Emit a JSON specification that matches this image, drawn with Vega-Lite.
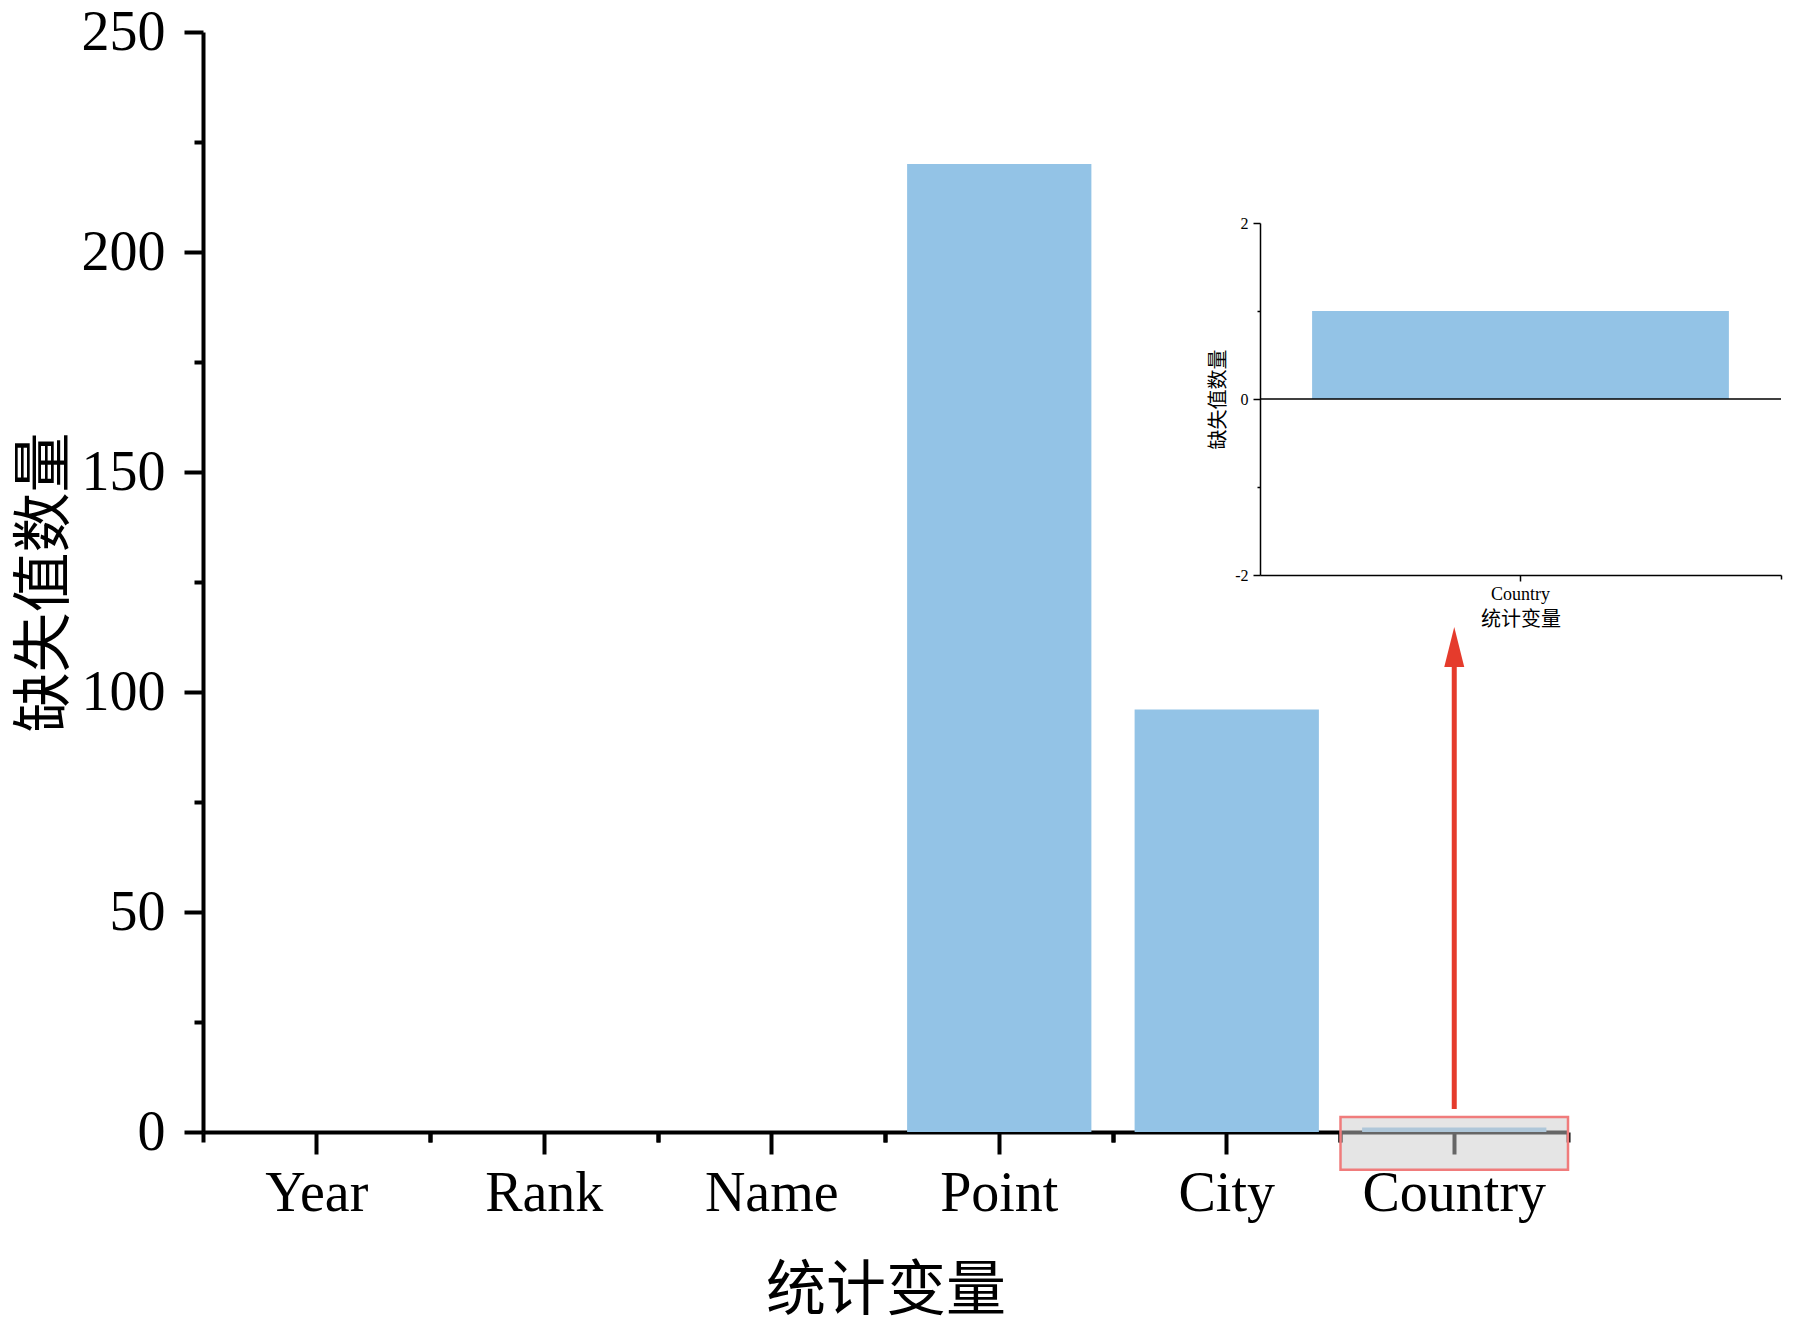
{
  "$schema": "https://vega.github.io/schema/vega-lite/v6.json",
  "width": 1365,
  "height": 1100,
  "autosize": "none",
  "padding": {"left": 203, "top": 32, "right": 225, "bottom": 197},
  "background": "white",
  "config": {
    "view": {"stroke": null},
    "axis": {"grid": false, "labelFont": "Liberation Serif", "titleFont": "Noto Sans CJK SC", "titleFontWeight": "normal", "labelColor": "black", "titleColor": "black", "domainColor": "black", "tickColor": "black", "labelOverlap": false, "labelLimit": 0}
  },
  "datasets": {
    "main": [
      {"var": "Year", "count": 0},
      {"var": "Rank", "count": 0},
      {"var": "Name", "count": 0},
      {"var": "Point", "count": 220},
      {"var": "City", "count": 96},
      {"var": "Country", "count": 1}
    ],
    "inset": [{"var": "Country", "count": 1}]
  },
  "layer": [
    {
      "data": {"name": "main"},
      "mark": {"type": "bar", "width": {"band": 0.81}, "color": "#93c3e6"},
      "encoding": {
        "x": {"field": "var", "type": "nominal", "sort": null,
          "scale": {"domain": ["Year", "Rank", "Name", "Point", "City", "Country"], "paddingInner": 0, "paddingOuter": 0},
          "axis": {"orient": "bottom", "title": "统计变量", "labelFontSize": 56, "titleFontSize": 60, "tickSize": 22, "tickWidth": 4, "domainWidth": 4, "labelPadding": 12, "titlePadding": 41, "labelAngle": 0, "bandPosition": 0.5, "zindex": 0}},
        "y": {"field": "count", "type": "quantitative",
          "scale": {"domain": [0, 250], "nice": false},
          "axis": {"orient": "left", "title": "缺失值数量", "values": [0, 50, 100, 150, 200, 250], "labelFontSize": 56, "titleFontSize": 60, "tickSize": 19, "tickWidth": 4, "domainWidth": 4, "labelPadding": 19, "titlePadding": 5, "zindex": 1}}
      }
    },
    {
      "data": {"name": "main"},
      "mark": {"type": "bar", "opacity": 0},
      "encoding": {
        "x": {"field": "var", "type": "nominal", "sort": null,
          "scale": {"domain": ["Year", "Rank", "Name", "Point", "City", "Country"], "paddingInner": 0, "paddingOuter": 0},
          "axis": {"orient": "bottom", "bandPosition": 0, "tickSize": 10, "tickWidth": 4, "labels": false, "domain": false, "title": null}},
        "y": {"field": "count", "type": "quantitative",
          "scale": {"domain": [0, 250], "nice": false},
          "axis": {"orient": "left", "values": [25, 75, 125, 175, 225], "tickSize": 9, "tickWidth": 4, "labels": false, "domain": false, "title": null}}
      }
    },
    {
      "data": {"name": "main"},
      "mark": {"type": "bar", "opacity": 0},
      "encoding": {
        "x": {"field": "var", "type": "nominal", "sort": null,
          "scale": {"domain": ["Year", "Rank", "Name", "Point", "City", "Country"], "paddingInner": 0, "paddingOuter": 0},
          "axis": {"orient": "bottom", "bandPosition": 1, "tickSize": 10, "tickWidth": 4, "labels": false, "domain": false, "title": null}},
        "y": {"field": "count", "type": "quantitative", "scale": {"domain": [0, 250], "nice": false}, "axis": null}
      }
    },
    {
      "data": {"values": [{}]},
      "mark": {"type": "bar", "fill": "#cbcbcb", "fillOpacity": 0.5, "stroke": "#f07c7c", "strokeWidth": 2.5},
      "encoding": {
        "x": {"datum": "Country", "type": "nominal",
          "scale": {"domain": ["Year", "Rank", "Name", "Point", "City", "Country"], "paddingInner": 0, "paddingOuter": 0}, "axis": null},
        "y": {"datum": 3.4, "type": "quantitative", "scale": {"domain": [0, 250], "nice": false}, "axis": null},
        "y2": {"datum": -8.6}
      }
    },
    {
      "data": {"values": [{}]},
      "mark": {"type": "rule", "color": "#e53b2c", "strokeWidth": 5},
      "encoding": {
        "x": {"datum": "Country", "type": "nominal",
          "scale": {"domain": ["Year", "Rank", "Name", "Point", "City", "Country"], "paddingInner": 0, "paddingOuter": 0}, "axis": null},
        "y": {"datum": 5.2, "type": "quantitative", "scale": {"domain": [0, 250], "nice": false}, "axis": null},
        "y2": {"datum": 107}
      }
    },
    {
      "data": {"values": [{}]},
      "mark": {"type": "point", "shape": "M0,-1L0.5,1L-0.5,1Z", "filled": true, "color": "#e53b2c", "opacity": 1, "size": 1600, "strokeWidth": 0},
      "encoding": {
        "x": {"datum": "Country", "type": "nominal",
          "scale": {"domain": ["Year", "Rank", "Name", "Point", "City", "Country"], "paddingInner": 0, "paddingOuter": 0}, "axis": null},
        "y": {"datum": 110.2, "type": "quantitative", "scale": {"domain": [0, 250], "nice": false}, "axis": null}
      }
    },
    {
      "data": {"name": "inset"},
      "mark": {"type": "bar", "width": {"band": 0.8}, "color": "#93c3e6"},
      "encoding": {
        "x": {"field": "var", "type": "nominal",
          "scale": {"domain": ["Country"], "range": [1057, 1578], "paddingInner": 0, "paddingOuter": 0},
          "axis": {"orient": "bottom", "offset": -557, "title": "统计变量", "labelFontSize": 18, "titleFontSize": 20, "tickSize": 6, "tickWidth": 1.5, "domainWidth": 1.5, "labelPadding": 4, "titlePadding": 6, "labelAngle": 0}},
        "y": {"field": "count", "type": "quantitative",
          "scale": {"domain": [-2, 2], "range": [543, 191], "nice": false, "zero": false},
          "axis": {"orient": "left", "offset": -1057, "values": [-2, 0, 2], "labelExpr": "toString(datum.value)", "title": "缺失值数量", "labelFontSize": 16, "titleFontSize": 20, "tickSize": 7, "tickWidth": 1.5, "domainWidth": 1.5, "labelPadding": 5, "titlePadding": 6}}
      }
    },
    {
      "data": {"name": "inset"},
      "mark": {"type": "bar", "opacity": 0},
      "encoding": {
        "x": {"field": "var", "type": "nominal",
          "scale": {"domain": ["Country"], "range": [1057, 1578], "paddingInner": 0, "paddingOuter": 0},
          "axis": {"orient": "bottom", "offset": -557, "bandPosition": 1, "tickSize": 4, "tickWidth": 1.5, "labels": false, "domain": false, "title": null}},
        "y": {"field": "count", "type": "quantitative",
          "scale": {"domain": [-2, 2], "range": [543, 191], "nice": false, "zero": false},
          "axis": {"orient": "left", "offset": -1057, "values": [-1, 1], "tickSize": 3, "tickWidth": 1.5, "labels": false, "domain": false, "title": null}}
      }
    },
    {
      "data": {"values": [{}]},
      "mark": {"type": "rule", "color": "black", "strokeWidth": 1.5},
      "encoding": {
        "x": {"datum": 0, "type": "quantitative", "scale": {"domain": [0, 1], "range": [1057, 1578], "nice": false, "zero": false}, "axis": null},
        "x2": {"datum": 1},
        "y": {"datum": 0, "type": "quantitative", "scale": {"domain": [-2, 2], "range": [543, 191], "nice": false, "zero": false}, "axis": null}
      }
    }
  ],
  "resolve": {
    "scale": {"x": "independent", "y": "independent"},
    "axis": {"x": "independent", "y": "independent"}
  }
}
